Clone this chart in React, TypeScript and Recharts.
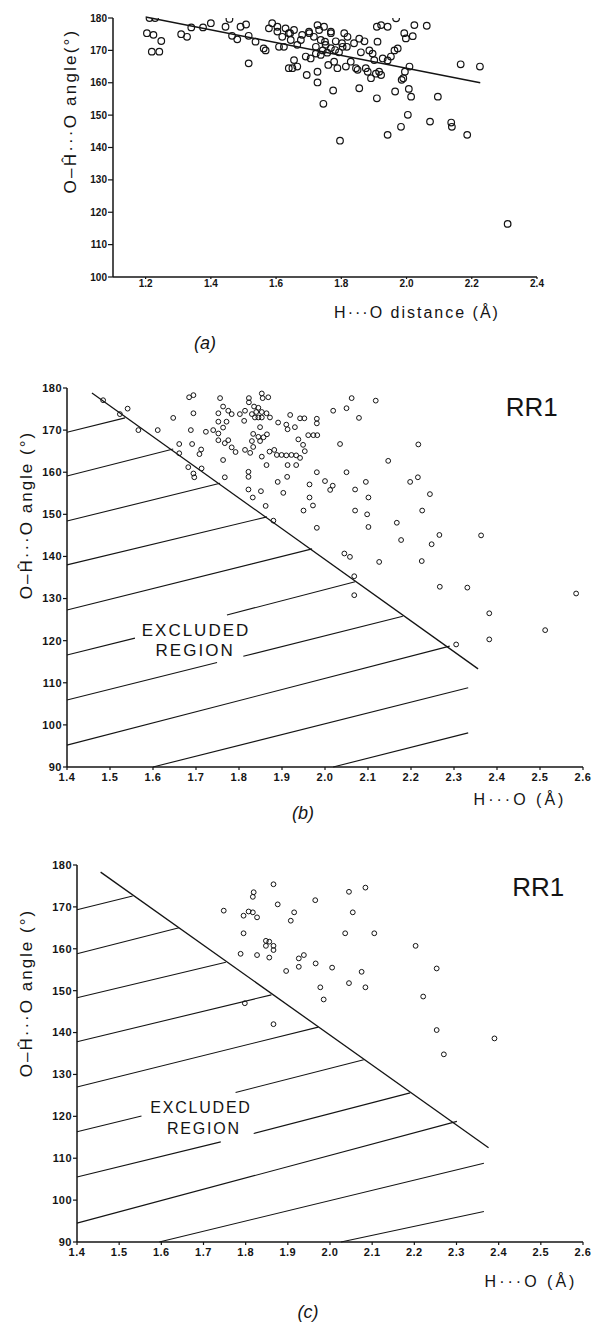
import { ReferenceDot, ReferenceLine, Scatter, ScatterChart, XAxis, YAxis } from 'recharts'

const INK = '#141414'
const FONT = '"Liberation Sans", Arial, Helvetica, sans-serif'

type Pt = [number, number]
type Seg = [number, number, number, number]

// (a) H...O distance (A) against O-H...O angle (deg), with the fitted line
const aXTicks = [1.2, 1.4, 1.6, 1.8, 2.0, 2.2, 2.4]
const aYTicks = [100, 110, 120, 130, 140, 150, 160, 170, 180]
const aFit: Seg = [1.2, 180.3, 2.226, 160.0]
const aPoints: Pt[] = [
  [1.204, 175.3], [1.224, 174.8], [1.248, 172.9], [1.219, 169.6], [1.242, 169.6], [1.212, 180.0],
  [1.229, 180.0], [1.309, 175.0], [1.327, 174.2], [1.34, 177.1], [1.376, 177.1], [1.4, 178.4],
  [1.445, 177.3], [1.457, 179.7], [1.465, 174.5], [1.481, 173.4], [1.491, 177.3], [1.508, 178.0],
  [1.516, 174.5], [1.516, 166.0], [1.537, 172.7], [1.562, 170.6], [1.568, 170.0], [1.578, 176.8],
  [1.588, 178.4], [1.604, 177.3], [1.609, 171.1], [1.619, 174.2], [1.624, 171.1], [1.629, 176.8],
  [1.639, 175.3], [1.645, 173.2], [1.655, 176.3], [1.655, 167.0], [1.639, 164.5], [1.65, 164.5],
  [1.665, 165.0], [1.665, 171.7], [1.68, 174.8], [1.691, 168.1], [1.694, 162.4], [1.701, 175.8],
  [1.706, 167.5], [1.716, 174.2], [1.722, 171.1], [1.722, 169.0], [1.727, 177.8], [1.727, 163.4],
  [1.727, 160.1], [1.732, 176.3], [1.737, 173.2], [1.737, 168.6], [1.743, 170.0], [1.747, 177.3],
  [1.745, 153.5], [1.752, 171.7], [1.757, 169.3], [1.76, 165.5], [1.768, 175.8], [1.768, 170.7],
  [1.775, 157.6], [1.778, 166.5], [1.783, 172.8], [1.788, 164.5], [1.793, 169.4], [1.796, 142.1],
  [1.804, 171.1], [1.809, 175.3], [1.814, 165.0], [1.819, 174.2], [1.829, 166.5], [1.839, 172.2],
  [1.845, 164.5], [1.85, 164.0], [1.855, 158.3], [1.855, 173.6], [1.86, 169.4], [1.871, 172.8],
  [1.875, 164.5], [1.881, 163.4], [1.886, 170.0], [1.891, 161.4], [1.896, 169.0], [1.901, 167.0],
  [1.906, 162.8], [1.909, 177.3], [1.909, 155.2], [1.911, 172.7], [1.916, 163.4], [1.922, 177.8],
  [1.922, 162.4], [1.927, 167.5], [1.942, 177.3], [1.942, 166.9], [1.942, 143.9], [1.952, 168.1],
  [1.963, 170.0], [1.965, 157.3], [1.968, 179.9], [1.973, 170.6], [1.983, 146.4], [1.985, 160.9],
  [1.99, 161.4], [1.993, 175.3], [1.995, 163.4], [1.998, 173.7], [2.004, 150.1], [2.007, 158.1],
  [2.009, 165.0], [2.014, 155.7], [2.019, 174.4], [2.024, 177.8], [2.062, 177.6], [2.072, 148.0],
  [2.096, 155.7], [2.137, 147.7], [2.139, 146.4], [2.166, 165.7], [2.186, 143.9], [2.225, 165.0],
  [2.31, 116.4], [1.604, 175.8], [1.643, 175.3], [1.676, 173.2], [1.702, 175.3], [1.75, 172.7],
  [1.768, 175.3], [1.802, 172.2], [1.781, 170.1], [1.817, 171.1],
]

// (b) and (c): RR1 contacts and the excluded region
const rrXTicks = [1.4, 1.5, 1.6, 1.7, 1.8, 1.9, 2.0, 2.1, 2.2, 2.3, 2.4, 2.5, 2.6]
const rrYTicks = [90, 100, 110, 120, 130, 140, 150, 160, 170, 180]

const bPoints: Pt[] = [
  [1.484, 177.1], [1.523, 173.8], [1.541, 175.1], [1.566, 170.0], [1.611, 170.0], [1.647, 172.9],
  [1.661, 166.7], [1.661, 164.5], [1.684, 177.8], [1.694, 178.3], [1.694, 174.0], [1.688, 170.0],
  [1.691, 166.7], [1.712, 165.4], [1.708, 164.3], [1.682, 161.2], [1.694, 159.7], [1.696, 158.8],
  [1.713, 160.9], [1.723, 169.6], [1.74, 170.0], [1.752, 169.2], [1.752, 167.6], [1.756, 177.6],
  [1.752, 174.0], [1.763, 175.6], [1.752, 172.0], [1.771, 172.0], [1.775, 174.6], [1.783, 173.8],
  [1.763, 170.6], [1.767, 166.9], [1.775, 167.6], [1.783, 165.9], [1.792, 164.8], [1.763, 162.9],
  [1.767, 158.8], [1.802, 173.8], [1.814, 174.6], [1.812, 172.2], [1.823, 177.6], [1.823, 176.6],
  [1.835, 175.6], [1.845, 175.3], [1.853, 178.7], [1.855, 177.6], [1.868, 177.8], [1.83, 173.8],
  [1.837, 173.0], [1.845, 173.0], [1.853, 173.0], [1.84, 174.3], [1.853, 174.3], [1.864, 174.0],
  [1.872, 173.0], [1.849, 170.7], [1.833, 169.1], [1.845, 168.4], [1.865, 169.0], [1.814, 165.3],
  [1.826, 164.6], [1.833, 166.0], [1.849, 167.4], [1.857, 168.3], [1.83, 167.4], [1.853, 163.7],
  [1.864, 161.7], [1.822, 160.1], [1.822, 158.9], [1.822, 155.9], [1.832, 154.0], [1.851, 155.5],
  [1.862, 152.0], [1.88, 148.5], [1.871, 164.9], [1.882, 165.3], [1.891, 171.8], [1.888, 164.1],
  [1.899, 164.1], [1.91, 164.0], [1.913, 161.7], [1.919, 173.6], [1.91, 171.3], [1.913, 170.2],
  [1.922, 164.1], [1.93, 170.7], [1.933, 164.0], [1.933, 161.7], [1.938, 167.8], [1.942, 172.8],
  [1.952, 172.8], [1.942, 163.4], [1.953, 165.0], [1.949, 166.5], [1.961, 168.8], [1.973, 168.8],
  [1.982, 168.8], [1.981, 172.7], [1.981, 171.6], [1.912, 158.9], [1.89, 157.7], [1.903, 155.1],
  [1.95, 150.9], [1.972, 152.1], [1.964, 154.0], [1.964, 157.1], [1.981, 160.0], [2.0, 157.9],
  [2.012, 155.8], [2.018, 156.8], [1.981, 146.8], [2.019, 174.6], [2.035, 166.7], [2.062, 177.6],
  [2.118, 177.0], [2.05, 175.2], [2.079, 172.9], [2.217, 166.6], [2.147, 162.7], [2.05, 160.0],
  [2.095, 157.7], [2.07, 155.9], [2.101, 154.0], [2.198, 157.7], [2.216, 158.8], [2.244, 154.8],
  [2.07, 150.9], [2.098, 150.0], [2.226, 150.9], [2.101, 147.0], [2.167, 148.0], [2.177, 143.9],
  [2.266, 145.1], [2.248, 142.9], [2.363, 145.0], [2.045, 140.7], [2.058, 139.9], [2.126, 138.7],
  [2.225, 138.9], [2.068, 135.3], [2.068, 130.8], [2.267, 132.8], [2.331, 132.6], [2.382, 126.5],
  [2.382, 120.3], [2.305, 119.1], [2.512, 122.5], [2.584, 131.2],
]
const bBoundary: Seg = [1.458, 178.8, 2.356, 113.3]
const bHatch: Seg[] = [
  [1.4, 169.5, 1.535, 172.9],
  [1.4, 159.1, 1.647, 165.5],
  [1.4, 148.4, 1.756, 157.4],
  [1.4, 138.0, 1.865, 149.4],
  [1.4, 127.3, 1.97, 141.8],
  [1.4, 116.6, 1.558, 120.6], [1.772, 126.1, 2.07, 134.0],
  [1.4, 105.9, 1.749, 114.8], [1.81, 116.3, 2.181, 125.8],
  [1.4, 95.2, 2.29, 118.7],
  [1.6, 90.0, 2.333, 108.8],
  [2.019, 90.0, 2.333, 98.1],
]

const cPoints: Pt[] = [
  [1.748, 169.1], [1.795, 167.9], [1.795, 163.7], [1.788, 158.8], [1.798, 147.0], [1.819, 173.5],
  [1.817, 172.4], [1.807, 168.9], [1.817, 168.7], [1.827, 167.5], [1.827, 158.5], [1.848, 161.9],
  [1.856, 161.7], [1.848, 160.7], [1.866, 160.7], [1.866, 159.7], [1.856, 157.9], [1.866, 175.4],
  [1.876, 170.6], [1.866, 142.0], [1.896, 154.7], [1.907, 166.7], [1.915, 168.7], [1.926, 155.7],
  [1.926, 157.7], [1.938, 158.5], [1.965, 171.6], [1.966, 156.5], [1.977, 150.8], [1.985, 147.9],
  [2.005, 155.5], [2.045, 173.6], [2.084, 174.6], [2.054, 168.7], [2.036, 163.7], [2.105, 163.7],
  [2.075, 154.5], [2.045, 151.8], [2.084, 150.8], [2.203, 160.7], [2.253, 155.3], [2.221, 148.6],
  [2.253, 140.6], [2.39, 138.6], [2.27, 134.8],
]
const cBoundary: Seg = [1.456, 178.3, 2.376, 112.5]
const cHatch: Seg[] = [
  [1.4, 169.3, 1.532, 172.6],
  [1.4, 158.8, 1.642, 165.0],
  [1.4, 148.3, 1.753, 156.8],
  [1.4, 137.8, 1.861, 149.0],
  [1.4, 127.0, 1.972, 141.3],
  [1.4, 116.3, 1.553, 120.1], [1.776, 125.7, 2.08, 133.5],
  [1.4, 105.5, 1.741, 113.9], [1.819, 115.9, 2.19, 125.6],
  [1.4, 94.5, 2.301, 118.8],
  [1.595, 90.0, 2.365, 108.8],
  [2.026, 90.0, 2.365, 97.3],
]

const toXY = (pts: Pt[]) => pts.map(([x, y]) => ({ x, y }))

const ring = (r: number, w: number) => (p: any) => (
  <circle cx={p.cx} cy={p.cy} r={r} fill="none" stroke={INK} strokeWidth={w} />
)

function seg(s: Seg, key: string, w = 1.2) {
  return (
    <ReferenceLine
      key={key}
      segment={[{ x: s[0], y: s[1] }, { x: s[2], y: s[3] }]}
      stroke={INK}
      strokeWidth={w}
      ifOverflow="visible"
    />
  )
}

function word(x: number, y: number, value: string, size: number, spacing: number) {
  return (
    <ReferenceDot
      key={value}
      x={x}
      y={y}
      r={0}
      fill="none"
      stroke="none"
      ifOverflow="visible"
      label={{ value, position: 'center', fill: INK, fontSize: size, fontFamily: FONT, letterSpacing: spacing }}
    />
  )
}

function Caption({ x, y, text, size, spacing = 0, rotate = false, italic = false }: {
  x: number
  y: number
  text: string
  size: number
  spacing?: number
  rotate?: boolean
  italic?: boolean
}) {
  return (
    <div
      style={{
        position: 'absolute',
        left: x,
        top: y,
        transform: `translate(-50%, -50%)${rotate ? ' rotate(-90deg)' : ''}`,
        whiteSpace: 'nowrap',
        fontSize: size,
        letterSpacing: spacing,
        fontStyle: italic ? 'italic' : 'normal',
        lineHeight: 1,
      }}
    >
      {text}
    </div>
  )
}

const axisLine = { stroke: INK, strokeWidth: 1.5 }
const tickLine = { stroke: INK, strokeWidth: 1.2 }
const smallTick = { fill: INK, fontSize: 10, fontWeight: 700, fontFamily: FONT }
const rrTick = { fill: INK, fontSize: 11, fontWeight: 700, fontFamily: FONT, letterSpacing: 0.5 }
const fmt1 = (v: number) => v.toFixed(1)

function RRPanel({ points, boundary, hatch, yAxisWidth, top, right, axisHeight, textAt, rr }: {
  points: Pt[]
  boundary: Seg
  hatch: Seg[]
  yAxisWidth: number
  top: number
  right: number
  axisHeight: number
  textAt: [number, number, number, number, number, number]
  rr: [number, number]
}) {
  const [ex, ey, rx, ry, size, spacing] = textAt
  return (
    <ScatterChart width={593} height={440} margin={{ top, right, bottom: 0, left: 0 }}>
      <XAxis
        type="number"
        dataKey="x"
        domain={[1.4, 2.6]}
        ticks={rrXTicks}
        interval={0}
        tickFormatter={fmt1}
        height={axisHeight}
        axisLine={axisLine}
        tickLine={tickLine}
        tickSize={3}
        tickMargin={3}
        tick={rrTick}
        allowDataOverflow
      />
      <YAxis
        type="number"
        dataKey="y"
        domain={[90, 180]}
        ticks={rrYTicks}
        interval={0}
        width={yAxisWidth}
        axisLine={axisLine}
        tickLine={tickLine}
        tickSize={4}
        tickMargin={1}
        tick={rrTick}
        allowDataOverflow
      />
      {seg(boundary, 'boundary', 1.3)}
      {hatch.map((h, i) => seg(h, `h${i}`, 1.1))}
      {word(ex, ey, 'EXCLUDED', size, spacing)}
      {word(rx, ry, 'REGION', size, spacing)}
      {word(rr[0], rr[1], 'RR1', 26, 0)}
      <Scatter data={toXY(points)} shape={ring(2.4, 1)} isAnimationActive={false} />
    </ScatterChart>
  )
}

export default function App() {
  return (
    <div
      style={{
        position: 'absolute',
        left: 0,
        top: 0,
        width: 593,
        height: 1324,
        background: '#fff',
        color: INK,
        fontFamily: FONT,
        overflow: 'hidden',
      }}
    >
      <div style={{ position: 'absolute', left: 0, top: 0 }}>
        <ScatterChart width={593} height={300} margin={{ top: 18, right: 56, bottom: 0, left: 0 }}>
          <XAxis
            type="number"
            dataKey="x"
            domain={[1.1, 2.4]}
            ticks={aXTicks}
            interval={0}
            tickFormatter={fmt1}
            height={23}
            axisLine={axisLine}
            tickLine={tickLine}
            tickSize={2}
            tickMargin={1}
            tick={smallTick}
            allowDataOverflow
          />
          <YAxis
            type="number"
            dataKey="y"
            domain={[100, 180]}
            ticks={aYTicks}
            interval={0}
            width={113}
            axisLine={axisLine}
            tickLine={tickLine}
            tickSize={5}
            tickMargin={1}
            tick={smallTick}
            allowDataOverflow
          />
          {seg(aFit, 'fit', 1.4)}
          <Scatter data={toXY(aPoints)} shape={ring(3.3, 1.2)} isAnimationActive={false} />
        </ScatterChart>
      </div>

      <div style={{ position: 'absolute', left: 0, top: 360 }}>
        <RRPanel
          points={bPoints}
          boundary={bBoundary}
          hatch={bHatch}
          yAxisWidth={67}
          top={28}
          right={10}
          axisHeight={33}
          textAt={[1.7, 122.5, 1.698, 117.8, 17, 2]}
          rr={[2.481, 175.5]}
        />
      </div>

      <div style={{ position: 'absolute', left: 0, top: 840 }}>
        <RRPanel
          points={cPoints}
          boundary={cBoundary}
          hatch={cHatch}
          yAxisWidth={77}
          top={25}
          right={10}
          axisHeight={38}
          textAt={[1.694, 122.2, 1.701, 117.2, 16, 1.8]}
          rr={[2.494, 174.7]}
        />
      </div>

      <Caption x={70} y={111} text="O–Ĥ···O angle(°)" size={17} spacing={2.2} rotate />
      <Caption x={417} y={313} text="H···O distance (Å)" size={16} spacing={2} />
      <Caption x={205} y={343} text="(a)" size={18} italic />

      <Caption x={26} y={515} text="O–Ĥ···O angle (°)" size={17} spacing={2} rotate />
      <Caption x={520} y={800} text="H···O (Å)" size={16} spacing={3} />
      <Caption x={303} y={813} text="(b)" size={18} italic />

      <Caption x={26} y={993} text="O–Ĥ···O angle (°)" size={17} spacing={2} rotate />
      <Caption x={531} y={1282} text="H···O (Å)" size={16} spacing={3} />
      <Caption x={308} y={1312} text="(c)" size={18} italic />
    </div>
  )
}
